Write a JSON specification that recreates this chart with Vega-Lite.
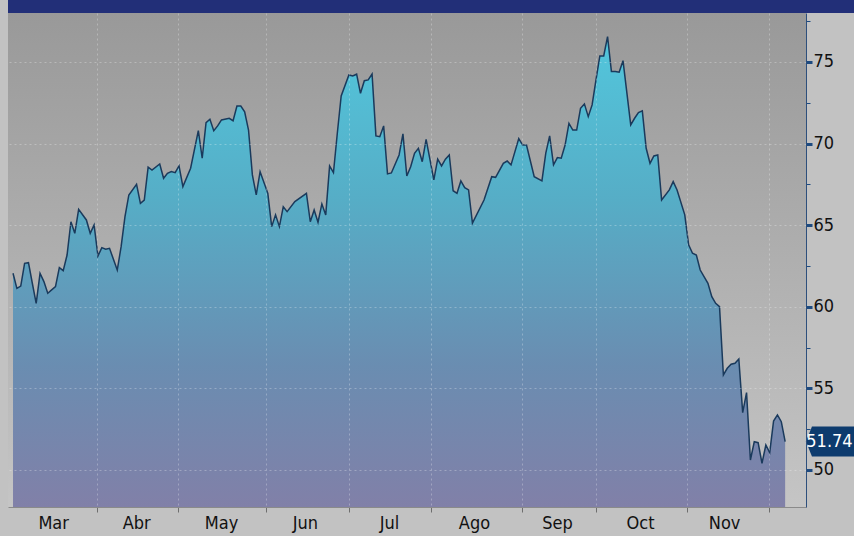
{
  "$schema": "https://vega.github.io/schema/vega-lite/v6.json",
  "background": "#c2c2c2",
  "padding": {"left": 8, "top": 0, "right": 0, "bottom": 4},
  "autosize": {"type": "pad"},
  "spacing": 0,
  "config": {
    "view": {"stroke": null},
    "axis": {
      "labelFont": "Liberation Sans Narrow, Arial Narrow, DejaVu Sans Condensed, sans-serif",
      "labelFontSize": 18,
      "labelColor": "#111111",
      "title": null
    }
  },
  "vconcat": [
    {
      "width": 846,
      "height": 13,
      "view": {"fill": "#222f78", "stroke": null},
      "data": {"values": []},
      "mark": "rect",
      "encoding": {}
    },
    {
      "width": 798,
      "height": 494,
      "view": {
        "fill": {"gradient": "linear", "x1": 0, "y1": 0, "x2": 0, "y2": 1,
          "stops": [{"offset": 0, "color": "#999999"}, {"offset": 1, "color": "#c5c5c5"}]},
        "stroke": null
      },
      "data": {"values": [
        {"d":0,"v":62.05},{"d":1,"v":61.13},{"d":2,"v":61.27},{"d":3,"v":62.66},{"d":4,"v":62.70},
        {"d":5,"v":61.44},{"d":6,"v":60.21},{"d":7,"v":62.05},{"d":8,"v":61.54},{"d":9,"v":60.83},
        {"d":10,"v":61.03},{"d":11,"v":61.23},{"d":12,"v":62.4},{"d":13,"v":62.21},{"d":14,"v":63.17},
        {"d":15,"v":65.21},{"d":16,"v":64.5},{"d":17,"v":65.97},{"d":19,"v":65.32},{"d":20,"v":64.5},
        {"d":21,"v":65.01},{"d":22,"v":63.11},{"d":23,"v":63.62},{"d":24,"v":63.52},{"d":25,"v":63.58},
        {"d":27,"v":62.25},{"d":28,"v":63.68},{"d":29,"v":65.52},{"d":30,"v":66.85},{"d":32,"v":67.5},
        {"d":33,"v":66.34},{"d":34,"v":66.54},{"d":35,"v":68.55},{"d":36,"v":68.38},{"d":38,"v":68.75},
        {"d":39,"v":67.87},{"d":40,"v":68.18},{"d":41,"v":68.28},{"d":42,"v":68.22},{"d":43,"v":68.63},
        {"d":44,"v":67.36},{"d":46,"v":68.49},{"d":48,"v":70.79},{"d":49,"v":69.1},{"d":50,"v":71.28},
        {"d":51,"v":71.49},{"d":52,"v":70.79},{"d":53,"v":71.08},{"d":54,"v":71.45},{"d":56,"v":71.55},
        {"d":57,"v":71.4},{"d":58,"v":72.3},{"d":59,"v":72.3},{"d":60,"v":71.95},{"d":61,"v":70.83},
        {"d":62,"v":68.08},{"d":63,"v":66.85},{"d":64,"v":68.28},{"d":66,"v":66.95},{"d":67,"v":64.91},
        {"d":68,"v":65.63},{"d":69,"v":64.91},{"d":70,"v":66.13},{"d":71,"v":65.83},{"d":73,"v":66.44},
        {"d":76,"v":66.95},{"d":77,"v":65.21},{"d":78,"v":65.93},{"d":79,"v":65.18},{"d":80,"v":66.3},
        {"d":81,"v":65.63},{"d":82,"v":68.63},{"d":83,"v":68.22},{"d":84,"v":70.63},{"d":85,"v":72.92},
        {"d":87,"v":74.2},{"d":88,"v":74.14},{"d":89,"v":74.25},{"d":90,"v":73.08},{"d":91,"v":73.85},
        {"d":92,"v":73.9},{"d":93,"v":74.26},{"d":94,"v":70.47},{"d":95,"v":70.42},{"d":96,"v":71.08},
        {"d":97,"v":68.14},{"d":98,"v":68.2},{"d":100,"v":69.3},{"d":101,"v":70.59},{"d":102,"v":68.01},
        {"d":103,"v":68.58},{"d":104,"v":69.4},{"d":105,"v":69.71},{"d":106,"v":68.89},{"d":107,"v":70.26},
        {"d":109,"v":67.77},{"d":110,"v":69.04},{"d":111,"v":68.63},{"d":112,"v":69.04},{"d":113,"v":69.3},
        {"d":114,"v":67.11},{"d":115,"v":66.95},{"d":116,"v":67.71},{"d":117,"v":67.3},{"d":118,"v":67.16},
        {"d":119,"v":65.12},{"d":122,"v":66.54},{"d":124,"v":67.97},{"d":125,"v":67.93},{"d":127,"v":68.79},
        {"d":128,"v":68.93},{"d":129,"v":68.69},{"d":131,"v":70.3},{"d":132,"v":69.91},{"d":133,"v":69.91},
        {"d":135,"v":67.97},{"d":137,"v":67.71},{"d":138,"v":69.41},{"d":139,"v":70.47},{"d":140,"v":68.69},
        {"d":141,"v":69.14},{"d":142,"v":69.1},{"d":143,"v":69.91},{"d":144,"v":71.24},{"d":145,"v":70.83},
        {"d":146,"v":70.83},{"d":147,"v":72.16},{"d":148,"v":72.43},{"d":149,"v":71.65},{"d":150,"v":72.37},
        {"d":151,"v":73.9},{"d":152,"v":75.37},{"d":153,"v":75.37},{"d":154,"v":76.55},{"d":155,"v":74.41},
        {"d":156,"v":74.41},{"d":157,"v":74.37},{"d":158,"v":75.08},{"d":160,"v":71.14},{"d":161,"v":71.55},
        {"d":162,"v":71.9},{"d":163,"v":72.0},{"d":164,"v":69.71},{"d":165,"v":68.79},{"d":166,"v":69.24},
        {"d":167,"v":69.3},{"d":168,"v":66.54},{"d":170,"v":67.16},{"d":171,"v":67.67},{"d":172,"v":67.16},
        {"d":174,"v":65.63},{"d":175,"v":63.79},{"d":176,"v":63.28},{"d":177,"v":63.17},{"d":178,"v":62.25},
        {"d":180,"v":61.44},{"d":181,"v":60.62},{"d":182,"v":60.21},{"d":183,"v":60.01},{"d":184,"v":55.82},
        {"d":185,"v":56.23},{"d":186,"v":56.48},{"d":187,"v":56.54},{"d":188,"v":56.8},{"d":189,"v":53.51},
        {"d":190,"v":54.74},{"d":191,"v":50.61},{"d":192,"v":51.73},{"d":193,"v":51.67},{"d":194,"v":50.41},
        {"d":195,"v":51.53},{"d":196,"v":51.06},{"d":197,"v":53.0},{"d":198,"v":53.37},{"d":199,"v":52.96},
        {"d":200,"v":51.74}
      ]},
      "encoding": {
        "x": {
          "field": "d", "type": "quantitative",
          "scale": {"domain": [-1.3, 205.4], "nice": false, "zero": false},
          "axis": {
            "values": [10.4, 21.8, 31.9, 42.8, 53.9, 65.5, 75.6, 86.9, 97.4, 108.3, 119.4, 131.8, 140.9, 151.0, 162.4, 174.5, 184.2, 195.9],
            "labelExpr": "datum.value == 10.4 ? 'Mar' : datum.value == 31.9 ? 'Abr' : datum.value == 53.9 ? 'May' : datum.value == 75.6 ? 'Jun' : datum.value == 97.4 ? 'Jul' : datum.value == 119.4 ? 'Ago' : datum.value == 140.9 ? 'Sep' : datum.value == 162.4 ? 'Oct' : datum.value == 184.2 ? 'Nov' : ''",
            "labelOverlap": false,
            "labelFlush": false,
            "labelPadding": 2,
            "tickSize": 5,
            "tickColor": "#6e6e6e",
            "tickOpacity": {"condition": {"test": "indexof([10.4,31.9,53.9,75.6,97.4,119.4,140.9,162.4,184.2], datum.value) >= 0", "value": 0}, "value": 1},
            "domainColor": "#8a8a8a",
            "grid": true,
            "gridColor": "#ffffff",
            "gridDash": [2, 3],
            "gridOpacity": {"condition": {"test": "indexof([10.4,31.9,53.9,75.6,97.4,119.4,140.9,162.4,184.2], datum.value) >= 0", "value": 0}, "value": 0.28},
            "zindex": 1
          }
        },
        "y": {
          "field": "v", "type": "quantitative",
          "scale": {"domain": [47.73, 78.0], "nice": false, "zero": false},
          "axis": {
            "orient": "right",
            "values": [50, 52.5, 55, 57.5, 60, 62.5, 65, 67.5, 70, 72.5, 75, 77.5],
            "labelExpr": "datum.value % 5 == 0 ? datum.label : ''",
            "labelPadding": 1,
            "tickColor": "#1d4a80",
            "tickSize": {"condition": {"test": "datum.value % 5 == 0", "value": 6}, "value": 4},
            "tickWidth": {"condition": {"test": "datum.value % 5 == 0", "value": 3}, "value": 1},
            "domainColor": "#2d4f7c",
            "grid": true,
            "gridColor": "#ffffff",
            "gridDash": [2, 3],
            "gridOpacity": {"condition": {"test": "datum.value % 5 == 0", "value": 0.28}, "value": 0},
            "zindex": 1
          }
        }
      },
      "layer": [
        {
          "mark": {
            "type": "area",
            "clip": true,
            "opacity": 1,
            "fillOpacity": 1,
            "fill": {"gradient": "linear", "x1": 0, "y1": 0, "x2": 0, "y2": 1,
              "stops": [
                {"offset": 0, "color": "#52c6dc"},
                {"offset": 0.35, "color": "#56adc6"},
                {"offset": 0.7, "color": "#6a8db1"},
                {"offset": 1, "color": "#8180a8"}
              ]},
            "line": {"color": "#1a3a5c", "strokeWidth": 1.5}
          },
          "encoding": {"y2": {"datum": 47.73}}
        },
        {
          "transform": [{"filter": "datum.d == 200"}],
          "mark": {"type": "point", "shape": "M0,0L0.4,-1L3.3,-1L3.3,1L0.4,1Z", "filled": true, "color": "#0d3b6e", "opacity": 1, "size": 900, "xOffset": 20.8, "clip": false}
        },
        {
          "transform": [{"filter": "datum.d == 200"}],
          "mark": {"type": "text", "align": "right", "baseline": "middle", "xOffset": 67.5, "font": "Liberation Sans Narrow, Arial Narrow, DejaVu Sans Condensed, sans-serif", "fontSize": 18, "color": "#ffffff", "clip": false},
          "encoding": {"text": {"field": "v", "type": "quantitative", "format": ".2f"}}
        }
      ]
    }
  ]
}
